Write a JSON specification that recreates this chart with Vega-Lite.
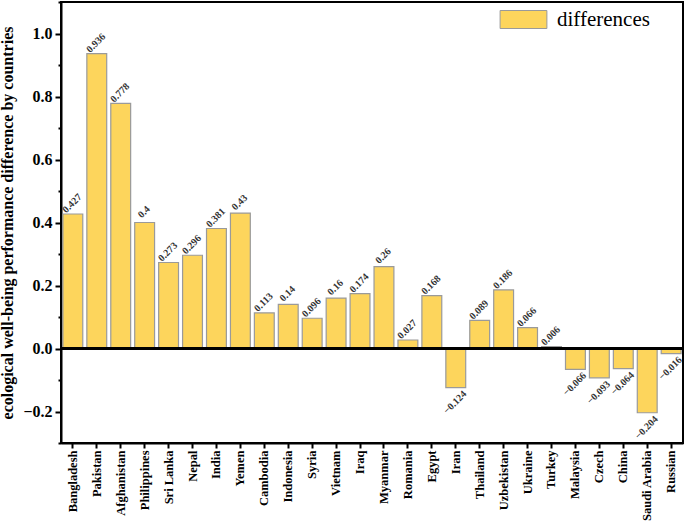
{
  "$schema": "https://vega.github.io/schema/vega-lite/v6.json",
  "width": 622,
  "height": 441,
  "autosize": "none",
  "padding": {"left": 61, "top": 2, "right": 2, "bottom": 78},
  "background": "white",
  "config": {
    "font": "Liberation Serif",
    "view": {"stroke": "black", "strokeWidth": 2}
  },
  "data": {
    "values": [
      {"country": "Bangladesh", "value": 0.427},
      {"country": "Pakistan", "value": 0.936},
      {"country": "Afghanistan", "value": 0.778},
      {"country": "Philippines", "value": 0.4},
      {"country": "Sri Lanka", "value": 0.273},
      {"country": "Nepal", "value": 0.296},
      {"country": "India", "value": 0.381},
      {"country": "Yemen", "value": 0.43},
      {"country": "Cambodia", "value": 0.113},
      {"country": "Indonesia", "value": 0.14},
      {"country": "Syria", "value": 0.096},
      {"country": "Vietnam", "value": 0.16},
      {"country": "Iraq", "value": 0.174},
      {"country": "Myanmar", "value": 0.26},
      {"country": "Romania", "value": 0.027},
      {"country": "Egypt", "value": 0.168},
      {"country": "Iran", "value": -0.124},
      {"country": "Thailand", "value": 0.089},
      {"country": "Uzbekistan", "value": 0.186},
      {"country": "Ukraine", "value": 0.066},
      {"country": "Turkey", "value": 0.006},
      {"country": "Malaysia", "value": -0.066},
      {"country": "Czech", "value": -0.093},
      {"country": "China", "value": -0.064},
      {"country": "Saudi Arabia", "value": -0.204},
      {"country": "Russian", "value": -0.016}
    ]
  },
  "encoding": {
    "x": {
      "field": "country",
      "type": "nominal",
      "sort": null,
      "scale": {"paddingInner": 0.17, "paddingOuter": 0.08},
      "axis": {
        "title": null,
        "labelAngle": -90,
        "labelFont": "Liberation Serif",
        "labelFontWeight": "bold",
        "labelFontSize": 12.5,
        "labelColor": "black",
        "labelPadding": 2,
        "labelLimit": 80,
        "tickSize": 5,
        "tickWidth": 2,
        "tickColor": "black",
        "domainColor": "black",
        "domainWidth": 2
      }
    },
    "y": {
      "field": "value",
      "type": "quantitative",
      "scale": {"domain": [-0.3, 1.1], "nice": false, "zero": false},
      "axis": {
        "title": "ecological well-being performance difference by countries",
        "titleFont": "Liberation Serif",
        "titleFontWeight": "bold",
        "titleFontSize": 16,
        "titleColor": "black",
        "titlePadding": 7,
        "values": [-0.3, -0.2, -0.1, 0, 0.1, 0.2, 0.3, 0.4, 0.5, 0.6, 0.7, 0.8, 0.9, 1.0, 1.1],
        "labelExpr": "abs(datum.value*5 - round(datum.value*5)) < 0.01 && datum.value > -0.25 && datum.value < 1.05 ? format(datum.value, '.1f') : ''",
        "labelFont": "Liberation Serif",
        "labelFontWeight": "bold",
        "labelFontSize": 16,
        "labelColor": "black",
        "labelPadding": 3,
        "tickSize": {"condition": {"test": "abs(datum.value*5 - round(datum.value*5)) < 0.01", "value": 6}, "value": 3},
        "tickWidth": 2,
        "tickColor": "black",
        "domainColor": "black",
        "domainWidth": 2,
        "grid": false
      }
    }
  },
  "layer": [
    {
      "mark": {"type": "bar", "stroke": "#9a9a9a", "strokeWidth": 1.2},
      "encoding": {
        "color": {
          "datum": "differences",
          "scale": {"range": ["#FDD55C"]},
          "legend": {
            "title": null,
            "orient": "none",
            "legendX": 452,
            "legendY": 7,
            "padding": 0,
            "symbolType": "M-2.6,-1H2.6V1H-2.6Z",
            "symbolSize": 324,
            "symbolStrokeColor": "#9a9a9a",
            "symbolStrokeWidth": 1,
            "symbolOpacity": 1,
            "labelFont": "Liberation Serif",
            "labelFontSize": 21,
            "labelColor": "black",
            "labelOffset": 23
          }
        }
      }
    },
    {
      "mark": {"type": "rule", "color": "black", "strokeWidth": 2},
      "encoding": {"y": {"datum": 0}, "x": null}
    },
    {
      "transform": [{"filter": "datum.value >= 0"}],
      "mark": {
        "type": "text",
        "angle": 315,
        "align": "center",
        "baseline": "middle",
        "dx": 7,
        "dy": -8,
        "font": "Liberation Serif",
        "fontWeight": "bold",
        "fontSize": 10,
        "color": "#333333"
      },
      "encoding": {"text": {"field": "value", "type": "quantitative", "format": "~g"}}
    },
    {
      "transform": [{"filter": "datum.value < 0"}],
      "mark": {
        "type": "text",
        "angle": 315,
        "align": "center",
        "baseline": "middle",
        "dx": -11,
        "dy": 10,
        "font": "Liberation Serif",
        "fontWeight": "bold",
        "fontSize": 10,
        "color": "#333333"
      },
      "encoding": {"text": {"field": "value", "type": "quantitative", "format": "~g"}}
    }
  ]
}
